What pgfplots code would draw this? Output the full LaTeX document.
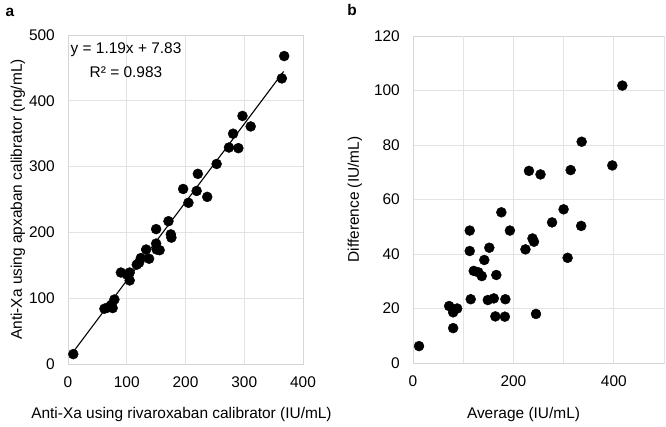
\documentclass[border=0pt]{standalone}
\usepackage{fontspec}
\setmainfont{Liberation Sans}
\usepackage{pgfplots}
\pgfplotsset{compat=1.18}

\pgfplotstableread{
x y
9 15
62 84
68 86
74 90
76 85
79 98
90 139
100 136
105 139
105 127
117 151
121 154
124 161
133 174
138 160
150 205
150 183
151 174
156 173
171 217
175 197
176 192
196 266
205 245
219 263
221 289
237 254
253 304
274 329
281 350
290 328
297 377
311 361
364 434
368 468
}\dataA

\pgfplotstableread{
x y
12 6.2
72 20.9
80 19.7
80 18.6
88 20
80 12.8
113 48.6
113 41.1
115 23.4
121 33.8
130 33.3
137 31.9
142 37.8
152 42.3
149 23.1
161 23.7
166 32.3
164 17.1
176 55.3
184 23.4
183 17
193 48.6
224 41.7
238 45.7
241 44.5
245 18
231 70.5
254 69.2
314 70.8
397 72.5
417 101.8
336 81.2
300 56.4
277 51.6
335 50.3
308 38.6
}\dataB

\newcommand{\fs}{\fontsize{15.5}{18}\selectfont}

\pgfplotsset{myax/.style={
  scale only axis,
  anchor=south west,
  axis line style={draw=black!16, line width=0.8bp},
  grid=major,
  grid style={draw=black!11, line width=0.8bp},
  major tick length=0pt,
  tick label style={font=\fs, inner sep=0pt},
  label style={font=\fs, inner sep=0pt},
  /pgf/number format/assume math mode=true,
  xticklabel shift=13bp, yticklabel shift=13bp,
  clip=false,
}}

\begin{document}
\begin{tikzpicture}
\path[use as bounding box] (0bp,0bp) rectangle (666bp,427bp);

\begin{axis}[myax,
  at={(68bp,63bp)}, width=235bp, height=329bp,
  xmin=0, xmax=400, ymin=0, ymax=500,
  xtick={0,100,200,300,400}, ytick={0,100,200,300,400,500},
  xlabel={Anti-Xa using rivaroxaban calibrator (IU/mL)},
  ylabel={Anti-Xa using apxaban calibrator (ng/mL)},
  xlabel style={at={([xshift=-4bp,yshift=-51bp]axis description cs:0.5,0)}, anchor=center},
  ylabel style={at={([xshift=-50bp]axis description cs:0,0.5)}, anchor=center},
]
\addplot[black, line width=1.1bp] coordinates {(9,18.5) (367,444.6)};
\addplot[only marks, mark=*, mark size=5bp, mark options={draw=black, fill=black}] table[x=x,y=y] {\dataA};
\end{axis}
\node[font=\fs, anchor=center] at (126bp,377bp) {y = 1.19x + 7.83};
\node[font=\fs, anchor=center] at (126bp,355bp) {R² = 0.983};
\node[font=\fs\bfseries, anchor=center] at (10bp,415bp) {a};

\begin{axis}[myax,
  at={(413bp,64bp)}, width=251bp, height=327bp,
  xmin=0, xmax=500, ymin=0, ymax=120,
  xtick={0,200,400}, ytick={0,20,40,60,80,100,120},
  extra x ticks={100,300,500}, extra x tick labels={},
  extra x tick style={grid=major},
  xlabel={Average (IU/mL)},
  ylabel={Difference (IU/mL)},
  xlabel style={at={([xshift=-15bp,yshift=-52bp]axis description cs:0.5,0)}, anchor=center},
  ylabel style={at={([xshift=-58bp]axis description cs:0,0.5)}, anchor=center},
]
\addplot[only marks, mark=*, mark size=5bp, mark options={draw=black, fill=black}] table[x=x,y=y] {\dataB};
\end{axis}
\node[font=\fs\bfseries, anchor=center] at (352bp,417bp) {b};
\end{tikzpicture}
\end{document}
